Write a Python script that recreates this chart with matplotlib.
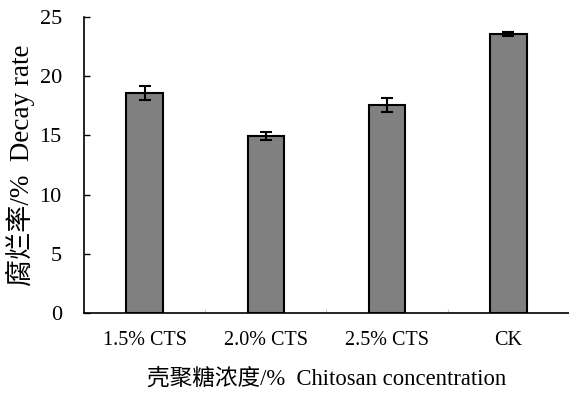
import matplotlib
matplotlib.use("Agg")
import matplotlib.pyplot as plt
from matplotlib.ticker import FixedLocator

categories = ["1.5% CTS", "2.0% CTS", "2.5% CTS", "CK"]
decay_rate = [18.6, 14.95, 17.55, 23.55]
errors = [0.6, 0.35, 0.6, 0.15]
y_ticks = [0, 5, 10, 15, 20, 25]

plt.rcParams["font.family"] = ["Liberation Serif", "Noto Sans CJK SC"]

fig = plt.figure(figsize=(5.69, 3.94), dpi=100)
ax = fig.add_axes([0.1476, 0.2056, 0.8524, 0.7513])

x = list(range(len(categories)))
ax.bar(x, decay_rate, width=0.3, color="#808080", edgecolor="black", linewidth=1.5,
       yerr=errors, capsize=4.5, error_kw=dict(ecolor="black", elinewidth=1.5, capthick=1.5))

ax.set_xlim(-0.5, len(categories) - 0.5)
ax.set_ylim(0, 25)
ax.set_yticks(y_ticks)
ax.set_xticks(x)
ax.set_xticklabels(categories)
ax.xaxis.set_minor_locator(FixedLocator([0.5, 1.5, 2.5]))
ax.tick_params(axis="y", direction="in", length=4, width=1, labelsize=16, pad=16)
ax.tick_params(axis="x", which="major", length=0, labelsize=14.5, pad=13)
ax.tick_params(axis="x", which="minor", direction="in", length=3, width=0.8, color="#c8c8c8")

for side in ("top", "right"):
    ax.spines[side].set_visible(False)
for side in ("left", "bottom"):
    ax.spines[side].set_linewidth(1.2)

ax.set_ylabel("腐烂率/%  Decay rate", fontsize=19.5, labelpad=3)
ax.set_xlabel("壳聚糖浓度/%  Chitosan concentration", fontsize=16.3, labelpad=13)

fig.savefig("out.png", dpi=100)
